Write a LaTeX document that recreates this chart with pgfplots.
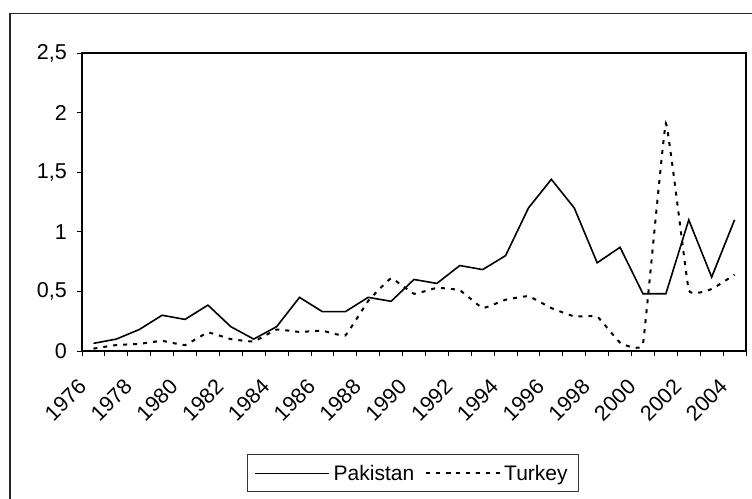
\documentclass[border=0pt]{standalone}
\usepackage{fontspec}
\setmainfont{Liberation Sans}
\usepackage{pgfplots}
\pgfplotsset{compat=1.18}
\begin{document}
\begin{tikzpicture}
\useasboundingbox (-82pt,-147pt) rectangle (670pt,351pt);
\draw[line width=1.5pt, black!85] (-72pt,-160pt) -- (-72pt,337.5pt) -- (680pt,337.5pt);
\begin{axis}[
  at={(0pt,0pt)}, anchor=south west,
  scale only axis, width=664pt, height=298pt,
  xmin=1975.5, xmax=2004.5, ymin=0, ymax=2.5,
  axis line style={line width=1.5pt, black},
  xtick={1976,1978,...,2004},
  major x tick style={draw=none},
  minor xtick={1975.5,1976.5,...,2004.5},
  minor x tick style={black, line width=0.8pt},
  minor tick length=5pt,
  ytick={0,0.5,1,1.5,2,2.5},
  y tick style={black, line width=0.8pt},
  major tick length=5pt,
  tick align=outside,
  xtick pos=bottom, ytick pos=left,
  x tick label style={/pgf/number format/1000 sep={}},
  /pgf/number format/use comma,
  /pgf/number format/assume math mode=true,
  tick label style={font=\fontsize{21.5}{25}\selectfont},
  xticklabel style={xshift=-11pt, yshift=-27pt, rotate=45, anchor=east, inner sep=0pt},
  yticklabel style={inner sep=0pt, xshift=-10pt},
  legend columns=-1,
  legend style={at={(0.4983,-0.4104)}, anchor=center, draw=black!80, line width=1pt,
    font=\fontsize{21}{25}\selectfont, inner xsep=7pt, inner ysep=8pt,
    /tikz/every even column/.append style={column sep=7pt},
    nodes={inner xsep=3.5pt, inner ysep=2pt}},
  legend image code/.code={\draw[#1] plot coordinates {(0pt,0pt) (37pt,0pt) (74pt,0pt)};},
]
\addplot[black, line width=1.6pt] coordinates {
(1976,0.064) (1977,0.10) (1978,0.18) (1979,0.30) (1980,0.265) (1981,0.385)
(1982,0.204) (1983,0.10) (1984,0.204) (1985,0.45) (1986,0.33) (1987,0.33)
(1988,0.45) (1989,0.417) (1990,0.60) (1991,0.567) (1992,0.717) (1993,0.683)
(1994,0.80) (1995,1.20) (1996,1.44) (1997,1.20) (1998,0.74) (1999,0.87)
(2000,0.48) (2001,0.48) (2002,1.10) (2003,0.62) (2004,1.10)
};
\addlegendentry{Pakistan}
\addplot[black, line width=2pt, dash pattern=on 4pt off 6pt, smooth, tension=0.15] coordinates {
(1976,0.02) (1977,0.05) (1978,0.06) (1979,0.085) (1980,0.05) (1981,0.155)
(1982,0.10) (1983,0.08) (1984,0.18) (1985,0.16) (1986,0.17) (1987,0.13)
(1988,0.42) (1989,0.61) (1990,0.48) (1991,0.53) (1992,0.51) (1993,0.36)
(1994,0.43) (1995,0.46) (1996,0.36) (1997,0.29) (1998,0.29) (1999,0.07)
(2000,0.06) (2001,1.91) (2002,0.51) (2003,0.52) (2004,0.64)
};
\addlegendentry{Turkey}
\end{axis}
\end{tikzpicture}
\end{document}
